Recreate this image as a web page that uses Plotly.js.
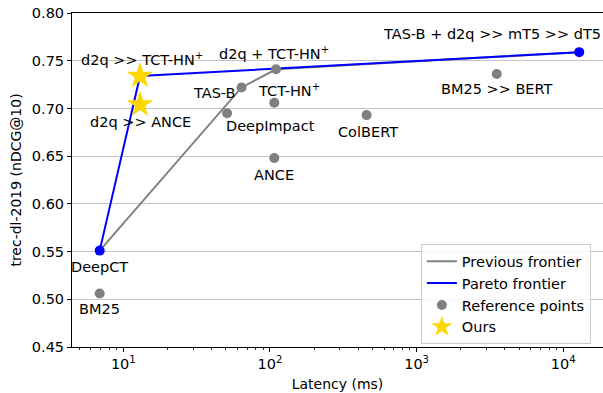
<!DOCTYPE html>
<html><head><meta charset="utf-8">
<script src="https://cdn.plot.ly/plotly-3.0.1.min.js"></script>
<style>html,body{margin:0;padding:0;background:#fff}</style>
</head><body><div id="chart" style="width:603px;height:393px"></div>
<script>
// ---- data ----
const refNames = ['BM25', 'TAS-B', 'd2q + TCT-HN<sup>+</sup>', 'TCT-HN<sup>+</sup>', 'DeepImpact', 'ANCE', 'ColBERT', 'BM25 >> BERT'];
const refLatency = [6.9, 64, 110, 107, 51, 107, 456, 3520];
const refNdcg = [0.506, 0.722, 0.741, 0.706, 0.695, 0.648, 0.693, 0.736];

const oursNames = ['d2q >> TCT-HN<sup>+</sup>', 'd2q >> ANCE'];
const oursLatency = [13, 13];
const oursNdcg = [0.734, 0.704];

const frontNames = ['DeepCT', 'TAS-B + d2q >> mT5 >> dT5'];
const frontLatency = [6.9, 12850];
const frontNdcg = [0.551, 0.759];

const prevFrontLatency = [6.9, 64, 110, 12850];
const prevFrontNdcg = [0.551, 0.722, 0.741, 0.759];

const paretoLatency = [6.9, 13, 12850];
const paretoNdcg = [0.551, 0.734, 0.759];

const yTicks = [0.45, 0.50, 0.55, 0.60, 0.65, 0.70, 0.75, 0.80];
const xTickVals = [10, 100, 1000, 10000];
const xTickText = ['10<sup>1</sup>', '10<sup>2</sup>', '10<sup>3</sup>', '10<sup>4</sup>'];

// ---- label placement (style, px offsets from each point) ----
const refOffsets = [
  {xa:'center', xs:0, ys:-15},   // BM25
  {xa:'right', xs:-4, ys:-6},    // TAS-B
  {xa:'center', xs:-2, ys:16},   // d2q + TCT-HN+
  {xa:'center', xs:15, ys:13},   // TCT-HN+
  {xa:'center', xs:43, ys:-13},  // DeepImpact
  {xa:'center', xs:0, ys:-17},   // ANCE
  {xa:'center', xs:1, ys:-17},   // ColBERT
  {xa:'center', xs:0, ys:-15}    // BM25 >> BERT
];
const oursOffsets = [
  {xa:'center', xs:2, ys:17},
  {xa:'center', xs:0, ys:-17}
];
const frontOffsets = [
  {xa:'center', xs:0, ys:-16},
  {xa:'right', xs:24, ys:18}
];

const FONT = 'DejaVu Sans, sans-serif';
const gray = '#808080';

const traces = [
  {x: prevFrontLatency, y: prevFrontNdcg, mode: 'lines', name: 'Previous frontier',
   line: {color: gray, width: 2}},
  {x: paretoLatency, y: paretoNdcg, mode: 'lines', name: 'Pareto frontier',
   line: {color: '#0000ff', width: 2}},
  {x: refLatency, y: refNdcg, mode: 'markers', name: 'Reference points',
   marker: {color: gray, size: 10, symbol: 'circle'}},
  {x: oursLatency, y: oursNdcg, mode: 'markers', name: 'Ours',
   marker: {color: '#ffd700', size: 20, symbol: 'star', line: {width: 0}}},
  {x: frontLatency, y: frontNdcg, mode: 'markers', showlegend: false,
   marker: {color: '#0000ff', size: 10, symbol: 'circle'}}
];

const annotations = [];
function addLabels(names, xs, ys, offs) {
  names.forEach((n, i) => {
    annotations.push({
      x: Math.log10(xs[i]), y: ys[i], xref: 'x', yref: 'y', text: n,
      showarrow: false, xanchor: offs[i].xa, yanchor: 'middle',
      xshift: offs[i].xs, yshift: offs[i].ys,
      font: {family: FONT, size: 14.5, color: '#000'}
    });
  });
}
addLabels(refNames, refLatency, refNdcg, refOffsets);
addLabels(oursNames, oursLatency, oursNdcg, oursOffsets);
addLabels(frontNames, frontLatency, frontNdcg, frontOffsets);

const minorVals = [];
[1, 10, 100, 1000, 10000].forEach(d => { for (let k = 2; k <= 9; k++) minorVals.push(d * k); });

const layout = {
  width: 603, height: 393,
  margin: {l: 72, r: 0, t: 13, b: 46},
  paper_bgcolor: '#fff', plot_bgcolor: '#fff',
  font: {family: FONT, size: 14, color: '#000'},
  showlegend: true,
  xaxis: {
    type: 'log', range: [0.65, 4.271],
    tickmode: 'array', tickvals: xTickVals, ticktext: xTickText,
    ticks: 'outside', ticklen: 4, tickwidth: 1, tickcolor: '#000',
    minor: {tickmode: 'array', tickvals: minorVals, ticks: 'outside', ticklen: 2, tickwidth: 0.8, tickcolor: '#000', showgrid: false},
    showgrid: false, zeroline: false,
    showline: true, linecolor: '#000', linewidth: 1, mirror: true,
    tickfont: {family: FONT, size: 14.5},
    title: {text: 'Latency (ms)', font: {family: FONT, size: 14}, standoff: 7}
  },
  yaxis: {
    range: [0.45, 0.80],
    tickmode: 'array', tickvals: yTicks, ticktext: yTicks.map(v => v.toFixed(2)),
    ticks: 'outside', ticklen: 4, tickwidth: 1, tickcolor: '#000',
    showgrid: true, gridcolor: '#c4c4c4', gridwidth: 1.2, zeroline: false,
    showline: true, linecolor: '#000', linewidth: 1,
    tickfont: {family: FONT, size: 14.5},
    title: {text: 'trec-dl-2019 (nDCG@10)', font: {family: FONT, size: 14}, standoff: 6}
  },
  legend: {
    x: 0.657, y: 0.008, xanchor: 'left', yanchor: 'bottom',
    bgcolor: 'rgba(255,255,255,0.85)', bordercolor: '#cccccc', borderwidth: 1,
    font: {family: FONT, size: 14.5}, tracegroupgap: 0, itemwidth: 30
  },
  annotations: annotations
};

Plotly.newPlot('chart', traces, layout, {displayModeBar: false, staticPlot: true});
</script>
</body></html>
